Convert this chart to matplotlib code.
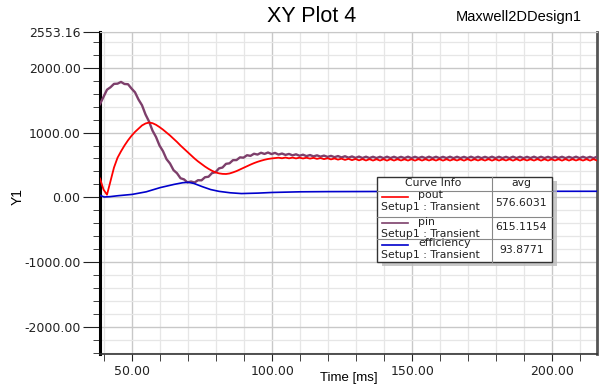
#!/usr/bin/env python3

import matplotlib
matplotlib.use("Agg")
import matplotlib.pyplot as plt
import numpy as np
from matplotlib.patches import Rectangle
from matplotlib.lines import Line2D
from matplotlib.ticker import MultipleLocator, FixedLocator, FormatStrFormatter

plt.rcParams['font.family'] = ['Liberation Sans', 'DejaVu Sans']

W, H = 609, 386

# sample grid of the transient solution [ms]
time_ms = np.linspace(38.5, 216.0, 143)

pout = [
    290, 120, 40, 250, 460, 610, 710, 800, 880, 950,
    1010, 1060, 1110, 1140, 1155, 1145, 1120, 1085, 1045, 1000,
    955, 905, 855, 800, 750, 700, 650, 600, 555, 515,
    475, 440, 410, 385, 370, 362, 360, 368, 385, 405,
    430, 455, 480, 505, 528, 548, 565, 580, 592, 600,
    606, 612, 603, 614, 602, 613, 601, 612, 600, 611,
    598, 609, 594, 606, 590, 603, 586, 600, 582, 597,
    578, 594, 574, 592, 571, 590, 569, 589, 568, 588,
    568, 588, 567, 589, 568, 588, 569, 587, 568, 588,
    567, 589, 568, 588, 569, 587, 568, 589, 567, 588,
    568, 587, 569, 588, 567, 589, 568, 588, 569, 587,
    568, 589, 567, 588, 568, 587, 569, 588, 567, 589,
    568, 588, 569, 587, 568, 589, 567, 588, 568, 587,
    569, 588, 567, 589, 568, 588, 569, 587, 568, 588,
    567, 589, 568,
]

pin = [
    1440, 1550, 1662, 1700, 1752, 1755, 1782, 1750, 1747, 1680,
    1622, 1510, 1422, 1280, 1172, 1030, 932, 800, 712, 590,
    522, 420, 372, 295, 277, 230, 244, 228, 264, 262,
    310, 318, 374, 388, 447, 460, 517, 525, 574, 575,
    617, 612, 650, 640, 673, 660, 688, 670, 692, 668,
    686, 660, 676, 655, 670, 648, 664, 642, 658, 636,
    653, 632, 648, 628, 644, 624, 640, 620, 637, 616,
    634, 612, 631, 609, 629, 607, 627, 606, 626, 606,
    626, 605, 627, 606, 626, 605, 625, 606, 627, 605,
    626, 606, 625, 605, 627, 606, 626, 605, 625, 606,
    627, 605, 626, 606, 625, 605, 627, 606, 626, 605,
    625, 606, 627, 605, 626, 606, 625, 605, 627, 606,
    626, 605, 625, 606, 627, 605, 626, 606, 625, 605,
    627, 606, 626, 605, 625, 606, 627, 605, 626, 606,
    625, 605, 627,
]

eff_time = [38.5, 40, 42, 45, 50, 55, 60, 65, 68, 70, 72, 75, 78, 81, 85,
            89, 95, 100, 110, 120, 140, 160, 180, 200, 216]
efficiency = [30, 5, 10, 25, 45, 85, 150, 200, 225, 232, 215, 165, 120, 92, 70,
              58, 65, 75, 85, 88, 90, 92, 93, 93, 93]

curve_names = ["pout", "pin", "efficiency"]
curve_colors = ["#ff0000", "#7d3f6b", "#0000cc"]
curve_avg = ["576.6031", "615.1154", "93.8771"]

y_major = [2553.16, 2000, 1000, 0, -1000, -2000]

SMALL = dict(family="DejaVu Sans", color="#222222")
LEG_FS = 7.8


def fx(x):
    return x / W


def fy(y):
    return 1 - y / H


def main():
    fig = plt.figure(figsize=(W / 100, H / 100), dpi=100)
    ax = fig.add_axes([fx(100), fy(354), fx(597) - fx(100), fy(32) - fy(354)])

    ax.plot(time_ms, pin, color=curve_colors[1], lw=1.7, zorder=3)
    ax.plot(time_ms, pout, color=curve_colors[0], lw=1.3, zorder=4)
    ax.plot(eff_time, efficiency, color=curve_colors[2], lw=1.2, zorder=5)

    ax.set_xlim(38.5, 216)
    ax.set_ylim(-2420, 2553.16)

    ax.xaxis.set_major_locator(FixedLocator([50, 100, 150, 200]))
    ax.xaxis.set_minor_locator(MultipleLocator(10))
    ax.xaxis.set_major_formatter(FormatStrFormatter("%.2f"))
    ax.yaxis.set_major_locator(FixedLocator(y_major))
    ax.yaxis.set_minor_locator(MultipleLocator(200))
    ax.yaxis.set_major_formatter(FormatStrFormatter("%.2f"))

    ax.grid(which="major", color="#c8c8c8", lw=1.0, zorder=0)
    ax.grid(which="minor", color="#e6e6e6", lw=0.9, zorder=0)
    ax.set_axisbelow(True)

    ax.tick_params(which="both", direction="out", labelsize=9, color="#222222")
    ax.tick_params(axis="x", which="both", length=5, pad=3)
    ax.tick_params(axis="y", which="major", length=12, pad=2)
    ax.tick_params(axis="y", which="minor", length=5)
    for lab in ax.get_xticklabels() + ax.get_yticklabels():
        lab.set_family("DejaVu Sans")
        lab.set_color("#222222")

    ax.spines["left"].set_linewidth(2.2)
    ax.spines["left"].set_color("black")
    ax.spines["bottom"].set_linewidth(1.2)
    ax.spines["bottom"].set_color("#333333")
    ax.spines["right"].set_linewidth(2.0)
    ax.spines["right"].set_color("#555555")
    ax.spines["top"].set_linewidth(0.8)
    ax.spines["top"].set_color("#c8c8c8")

    fig.text(fx(312), fy(16), "XY Plot 4", fontsize=15.5, ha="center", va="center")
    fig.text(fx(519), fy(17), "Maxwell2DDesign1", fontsize=10.5, ha="center", va="center")
    fig.text(fx(18), fy(197), "Y1", fontsize=10, rotation=90, ha="center", va="center")
    fig.text(fx(349), fy(378), "Time [ms]", fontsize=9.5, ha="center", va="center")

    # curve info table
    x0, x1, xm = 376.5, 551.5, 491.5
    rows = [176.5, 190.5, 216.5, 238.5, 261.5]
    fig.add_artist(Rectangle((fx(x0 + 5), fy(rows[-1] + 4)), fx(x1 - x0), fy(rows[0]) - fy(rows[-1]),
                             transform=fig.transFigure, facecolor="#bbbbbb", edgecolor="none",
                             alpha=0.8, zorder=9))
    fig.add_artist(Rectangle((fx(x0), fy(rows[-1])), fx(x1 - x0), fy(rows[0]) - fy(rows[-1]),
                             transform=fig.transFigure, facecolor="white", edgecolor="#333333",
                             lw=1.0, zorder=10))
    for ry in rows[1:-1]:
        fig.add_artist(Line2D([fx(x0), fx(x1)], [fy(ry), fy(ry)], transform=fig.transFigure,
                              color="#888888", lw=0.8, zorder=11))
    fig.add_artist(Line2D([fx(xm), fx(xm)], [fy(rows[0]), fy(rows[-1])], transform=fig.transFigure,
                          color="#888888", lw=0.8, zorder=11))

    fig.text(fx(433), fy(183.5), "Curve Info", fontsize=LEG_FS, ha="center", va="center",
             zorder=12, **SMALL)
    fig.text(fx((xm + x1) / 2), fy(183.5), "avg", fontsize=LEG_FS, ha="center", va="center",
             zorder=12, **SMALL)
    for i, name in enumerate(curve_names):
        top = rows[i + 1]
        bot = rows[i + 2]
        ly = top + 6.0
        fig.add_artist(Line2D([fx(382), fx(408)], [fy(ly), fy(ly)], transform=fig.transFigure,
                              color=curve_colors[i], lw=1.2, zorder=12))
        fig.text(fx(418), fy(top + 5.0), name, fontsize=LEG_FS, ha="left", va="center",
                 zorder=12, **SMALL)
        fig.text(fx(381), fy(top + 17.0), "Setup1 : Transient", fontsize=LEG_FS, ha="left",
                 va="center", zorder=12, **SMALL)
        fig.text(fx((xm + x1) / 2), fy((top + bot) / 2), curve_avg[i], fontsize=LEG_FS,
                 ha="center", va="center", zorder=12, **SMALL)

    fig.savefig("out.png", dpi=100)


if __name__ == "__main__":
    main()
